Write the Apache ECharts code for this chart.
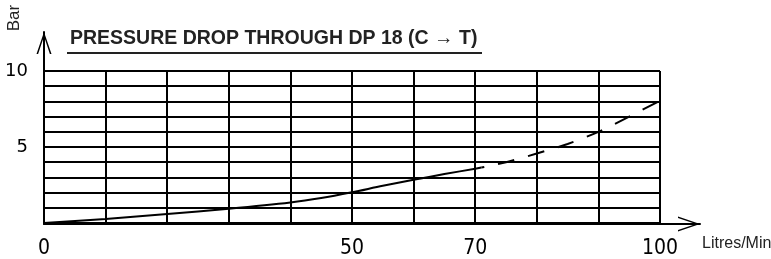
<!DOCTYPE html>
<html>
<head>
<meta charset="utf-8">
<script src="https://cdn.jsdelivr.net/npm/echarts@6/dist/echarts.min.js"></script>
<style>
  html, body { margin: 0; padding: 0; background: #fff; }
  #chart { width: 771px; height: 259px; }
</style>
</head>
<body>
<div id="chart"></div>
<script>
// measured curve, solid part (Litres/Min -> Bar)
const flow = [0, 10, 20, 30, 40, 45, 50, 55, 60, 65, 70, 71];
const drop = [0, 0.26, 0.59, 0.94, 1.35, 1.64, 2.02, 2.45, 2.84, 3.22, 3.57, 3.65];
// extrapolated part, dashed
const flowExt = [71, 75, 80, 85, 90, 95, 100];
const dropExt = [3.65, 4.0, 4.57, 5.2, 6.0, 7.0, 8.05];
// only these ticks carry a label
const xLabels = [0, 50, 70, 100];
const yLabels = [5, 10];

const ink = "#000";
// open V arrow head, pointing up
const arrowHead = "path://M7.5,0 L15,22 L13.4,22 L7.5,4.2 L1.6,22 L0,22 Z";

const chart = echarts.init(document.getElementById("chart"));

const option = {
  animation: false,
  title: {
    text: "PRESSURE DROP THROUGH DP 18 (C \u2192 T)",
    left: 70,
    top: 29,
    padding: 0,
    textStyle: {
      color: "#222",
      fontFamily: "Liberation Sans",
      fontWeight: "bold",
      fontSize: 19.5
    }
  },
  graphic: [
    {
      type: "line",
      shape: { x1: 67, y1: 53, x2: 482, y2: 53 },
      style: { stroke: "#222", lineWidth: 2 }
    },
    {
      type: "text",
      x: 14,
      y: 18,
      rotation: Math.PI / 2,
      style: {
        text: "Bar",
        fill: "#222",
        font: "17px 'Liberation Sans'",
        align: "center",
        verticalAlign: "middle"
      }
    },
    {
      type: "text",
      x: 702,
      y: 244,
      style: {
        text: "Litres/Min",
        fill: "#222",
        font: "16px 'Liberation Sans'",
        align: "left",
        verticalAlign: "middle"
      }
    }
  ],
  grid: [
    { left: 44, right: 111, top: 71, bottom: 35 },
    { left: 44, right: 71, top: 32, bottom: 35 }
  ],
  xAxis: [
    {
      type: "value",
      gridIndex: 0,
      min: 0,
      max: 100,
      interval: 10,
      axisLine: { show: false },
      axisTick: { show: false },
      axisLabel: {
        color: ink,
        fontFamily: "'DejaVu Sans Condensed', 'DejaVu Sans'",
        fontSize: 21,
        margin: 15,
        formatter: function (v) {
          return xLabels.indexOf(v) >= 0 ? String(v) : "";
        }
      },
      splitLine: { show: true, lineStyle: { color: ink, width: 2 } }
    },
    {
      type: "value",
      gridIndex: 1,
      min: 0,
      max: 1,
      axisLine: {
        show: true,
        onZero: false,
        symbol: ["none", arrowHead],
        symbolSize: [15, 22],
        symbolOffset: [0, -11],
        lineStyle: { color: ink, width: 2 }
      },
      axisTick: { show: false },
      axisLabel: { show: false },
      splitLine: { show: false }
    }
  ],
  yAxis: [
    {
      type: "value",
      gridIndex: 0,
      min: 0,
      max: 10,
      interval: 1,
      axisLine: { show: false },
      axisTick: { show: false },
      axisLabel: {
        color: ink,
        fontFamily: "DejaVu Sans",
        fontSize: 18,
        margin: 16,
        formatter: function (v) {
          return yLabels.indexOf(v) >= 0 ? String(v) : "";
        }
      },
      splitLine: { show: true, lineStyle: { color: ink, width: 2 } }
    },
    {
      type: "value",
      gridIndex: 1,
      min: 0,
      max: 1,
      axisLine: {
        show: true,
        onZero: false,
        symbol: ["none", arrowHead],
        symbolSize: [15, 22],
        symbolOffset: [0, -11],
        lineStyle: { color: ink, width: 2 }
      },
      axisTick: { show: false },
      axisLabel: { show: false },
      splitLine: { show: false }
    }
  ],
  series: [
    {
      type: "line",
      xAxisIndex: 0,
      yAxisIndex: 0,
      data: flow.map((f, i) => [f, drop[i]]),
      showSymbol: false,
      smooth: 0.3,
      lineStyle: { color: ink, width: 2 }
    },
    {
      type: "line",
      xAxisIndex: 0,
      yAxisIndex: 0,
      data: flowExt.map((f, i) => [f, dropExt[i]]),
      showSymbol: false,
      smooth: 0.3,
      lineStyle: { color: ink, width: 2, type: [17, 14], dashOffset: 14 }
    }
  ]
};

chart.setOption(option);
</script>
</body>
</html>
